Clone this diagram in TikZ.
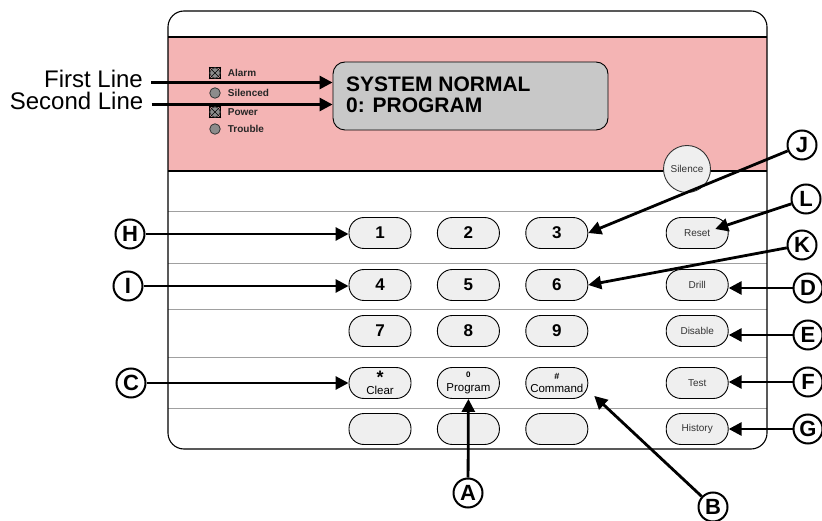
\documentclass[tikz,border=0pt]{standalone}
\usepackage{fontspec}
\setmainfont{Liberation Sans}
\usetikzlibrary{positioning,arrows.meta,calc}

\definecolor{bandpink}{HTML}{F4B4B4}
\definecolor{lcdgray}{HTML}{C8C8C8}
\definecolor{keyfill}{HTML}{EFEFEF}
\definecolor{ledgray}{HTML}{8C8C8C}
\definecolor{rulegray}{HTML}{A0A0A0}

\tikzset{
  housing/.style={draw=black, line width=1.1pt, rounded corners=16pt},
  rule/.style={draw=rulegray, line width=1pt},
  btn/.style={draw=black, fill=keyfill, line width=0.9pt, rounded corners=15pt,
    minimum width=62pt, minimum height=31pt, inner sep=0pt,
    font=\fontsize{17}{17}\selectfont\bfseries},
  fbtn/.style={btn, text=black!80, font=\fontsize{10}{10}\selectfont},
  twoline/.style={btn, align=center, font=\fontsize{11.5}{#1}\selectfont},
  silbtn/.style={circle, draw=black!80, fill=keyfill, line width=0.9pt,
    minimum size=47pt, inner sep=0pt, text=black!80, font=\fontsize{10}{10}\selectfont},
  led/.style={circle, draw=black!80, fill=ledgray, line width=0.8pt,
    minimum size=10.5pt, inner sep=0pt},
  ledbox/.style={draw=black, line width=0.8pt, minimum size=11pt, inner sep=0pt},
  ledlabel/.style={inner sep=0pt, text=black!85, font=\fontsize{10}{10}\selectfont\bfseries},
  lcd/.style={draw=black, fill=lcdgray, line width=0.9pt, rounded corners=12pt,
    minimum width=275pt, minimum height=68pt},
  lcdtext/.style={anchor=base west, inner sep=0pt, font=\fontsize{21}{21}\selectfont\bfseries},
  linename/.style={anchor=base east, inner sep=0pt, text height=17pt, text depth=6pt,
    font=\fontsize{24}{24}\selectfont},
  tag/.style={circle, draw=black, line width=2pt, minimum size=29pt, inner sep=0pt,
    font=\fontsize{22}{22}\selectfont\bfseries},
  pointer/.style={line width=2.8pt, -{Triangle[length=13pt,width=13pt]}}
}

\begin{document}
\begin{tikzpicture}[x=1pt,y=-1pt,node distance=25.5pt]
\useasboundingbox (0,0) rectangle (822,521);
\fill[white] (0,0) rectangle (822,521);

% housing
\fill[bandpink] (168,37) rectangle (767,171);
\draw[rule] (168,212) -- (767,212) (168,264) -- (767,264) (168,310) -- (767,310)
  (168,357) -- (767,357) (168,408) -- (767,408);
\draw[line width=1.1pt] (168,37) -- (767,37) (168,171) -- (767,171);
\draw[housing] (168,11) rectangle (767,449);

% display
\node[lcd] (disp) at (470.5,96) {};
\node[lcdtext] (line1) at (346,92) {SYSTEM NORMAL};
\node[lcdtext] (line2) at (346,113) {0: PROGRAM};

% status lights
\node[ledbox] (alarmbox) at (215,73) {};
\node[led] (alarm) at (215,73) {};
\draw[line width=0.6pt] (alarmbox.north west) -- (alarmbox.south east)
  (alarmbox.south west) -- (alarmbox.north east);
\node[led] (silenced) at (215,93) {};
\node[ledbox] (powerbox) at (215,112) {};
\node[led] (power) at (215,112) {};
\draw[line width=0.6pt] (powerbox.north west) -- (powerbox.south east)
  (powerbox.south west) -- (powerbox.north east);
\node[led] (trouble) at (215,129) {};
\node[ledlabel, right=7pt of alarm] {Alarm};
\node[ledlabel, right=7pt of silenced] {Silenced};
\node[ledlabel, right=7pt of power] {Power};
\node[ledlabel, right=7pt of trouble] {Trouble};

\node[silbtn] (silence) at (687,169) {Silence};

% keys
\node[btn] (k1) at (380,233) {1};
\node[btn, right=of k1] (k2) {2};
\node[btn, right=of k2] (k3) {3};
\node[fbtn, right=77.5pt of k3] (reset) {Reset};

\node[btn] (k4) at (380,285) {4};
\node[btn, right=of k4] (k5) {5};
\node[btn, right=of k5] (k6) {6};
\node[fbtn, right=77.5pt of k6] (drill) {Drill};

\node[btn] (k7) at (380,331) {7};
\node[btn, right=of k7] (k8) {8};
\node[btn, right=of k8] (k9) {9};
\node[fbtn, right=77.5pt of k9] (disable) {Disable};

\node[twoline=11] (kclr) at (380,383) {{\fontsize{18}{18}\selectfont\bfseries *}\\Clear};
\node[twoline=13.3, right=of kclr] (kprog) {{\fontsize{8}{8}\selectfont\bfseries 0}\\Program};
\node[twoline=13.5, right=of kprog] (kcmd) {{\fontsize{9}{9}\selectfont\bfseries \#}\\Command};
\node[fbtn, right=77.5pt of kcmd] (test) {Test};

\node[btn] (kb1) at (380,429) {};
\node[btn, right=of kb1] (kb2) {};
\node[btn, right=of kb2] (kb3) {};
\node[fbtn, right=77.5pt of kb3] (history) {History};

% display line names
\node[linename] (first) at (143,88) {First Line};
\node[linename] (second) at (143.5,110) {Second Line};
\draw[pointer] ([xshift=8pt]first.east) -- (first.east -| disp.west);
\draw[pointer] ([xshift=8pt]second.east) -- (second.east -| disp.west);

% callouts
\node[tag] (tH) at (130,234) {H};
\node[tag] (tI) at (128,286) {I};
\node[tag] (tC) at (131,383) {C};
\node[tag] (tA) at (468,493) {A};
\node[tag] (tB) at (713,507) {B};
\node[tag] (tJ) at (802,145) {J};
\node[tag] (tL) at (806,199) {L};
\node[tag] (tK) at (802,245) {K};
\node[tag] (tD) at (808,288) {D};
\node[tag] (tE) at (808,335) {E};
\node[tag] (tF) at (808,382) {F};
\node[tag] (tG) at (808,429) {G};

\draw[pointer] (tH) -- (tH -| k1.west);
\draw[pointer] (tI) -- (tI -| k4.west);
\draw[pointer] (tC) -- (tC -| kclr.west);
\draw[pointer] (tA) -- (kprog.south);
\draw[pointer] (tB) -- ([xshift=6pt,yshift=3pt]kcmd.south east);
\draw[pointer] (tJ) -- (k3.east);
\draw[pointer] (tL) -- ([xshift=18pt,yshift=4pt]reset.center);
\draw[pointer] (tK) -- (k6.east);
\draw[pointer] (tD) -- (tD -| drill.east);
\draw[pointer] (tE) -- (tE -| disable.east);
\draw[pointer] (tF) -- (tF -| test.east);
\draw[pointer] (tG) -- (tG -| history.east);
\end{tikzpicture}
\end{document}
